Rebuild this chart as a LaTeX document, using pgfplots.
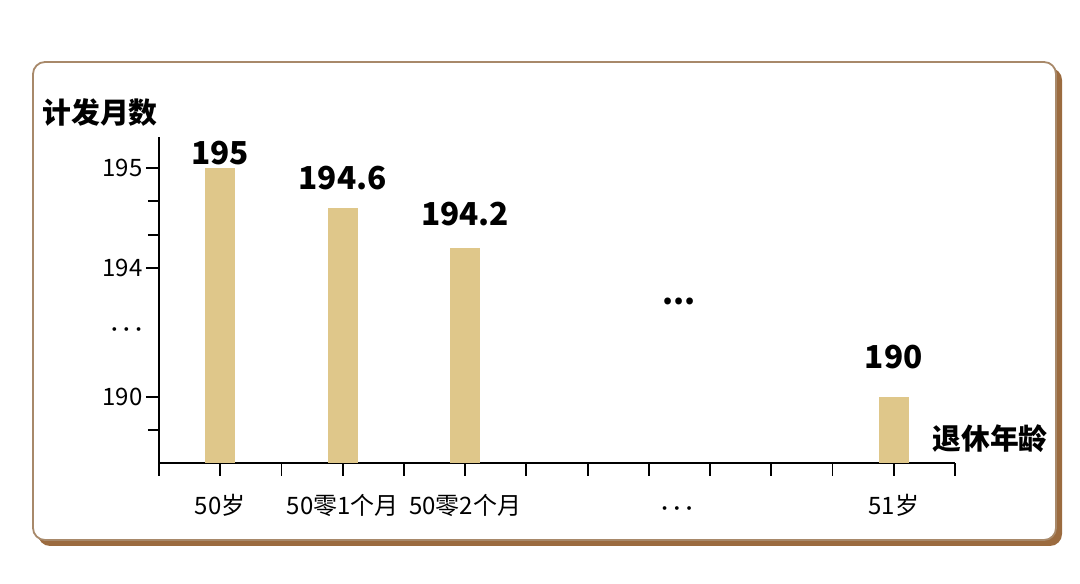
\documentclass[border=0pt]{standalone}
\usepackage{fontspec}
\setmainfont{Noto Sans CJK SC}
\usepackage{pgfplots}
\pgfplotsset{compat=1.18}

\definecolor{barcol}{HTML}{DFC78A}
\definecolor{framecol}{HTML}{9B6B3F}
\definecolor{framelinecol}{HTML}{A8896A}

\newcommand{\valfont}{\bfseries\fontsize{15.8bp}{17bp}\selectfont}
\newcommand{\tickfont}{\fontsize{12bp}{14bp}\selectfont}
\DeclareRobustCommand{\bdots}{\mbox{\boldmath$\cdots$}}

\begin{document}
\begin{tikzpicture}
% page and card (1px = 0.5bp)
\path (0,0) rectangle (540bp,292bp);
\fill[framecol, rounded corners=6bp] (19bp,19bp) rectangle (531bp,258bp);
\filldraw[fill=white, draw=framelinecol, line width=0.9bp, rounded corners=6bp]
  (16.5bp,22bp) rectangle (528bp,261bp);

\begin{axis}[
  at={(79.5bp,60.5bp)}, anchor=south west,
  scale only axis, width=398bp, height=163bp,
  axis lines=left, axis line style={-, line width=0.9bp},
  xmin=0, xmax=13, ymin=187.9535, ymax=195.31,
  % broken value axis: 194..195 stretched, 190..194 compressed
  y coord trafo/.code={\pgfmathparse{#1>=194 ? 195+(#1-194)*100 : 66+(#1-190)*32.25}},
  y coord inv trafo/.code={\pgfmathparse{#1>=195 ? 194+(#1-195)/100 : 190+(#1-66)/32.25}},
  tick align=outside,
  major tick length=6.5bp, minor tick length=5.5bp,
  tick style={black, line width=0.9bp},
  xtick={0,...,13},
  xticklabels={,50岁,,50零1个月,,50零2个月,,,,,,,51岁,},
  extra x ticks={8.46}, extra x tick labels={\bdots},
  extra x tick style={tick style={draw=none}},
  ytick={190,194,195}, yticklabels={190,194,195},
  minor ytick={188.977,194.333,194.667},
  extra y ticks={192.08}, extra y tick labels={\bdots},
  extra y tick style={tick style={draw=none}},
  /pgf/number format/assume math mode=true,
  xticklabel style={font=\tickfont, yshift=-7bp,
    text height=0.9em, text depth=0.15em},
  yticklabel style={font=\tickfont, inner sep=1.5bp},
  point meta=explicit symbolic,
  nodes near coords,
  nodes near coords style={font=\valfont, anchor=south, inner sep=0pt},
]
\addplot[ybar, bar width=15bp, bar shift=0pt, fill=barcol, draw=none,
  nodes near coords style={yshift=1.5bp}] coordinates {(1,195) [195]};
\addplot[ybar, bar width=15bp, bar shift=0pt, fill=barcol, draw=none,
  nodes near coords style={yshift=9bp}] coordinates {(3,194.6) [194.6]};
\addplot[ybar, bar width=15bp, bar shift=0pt, fill=barcol, draw=none,
  nodes near coords style={yshift=11bp}] coordinates {(5,194.2) [194.2]};
\addplot[ybar, bar width=15bp, bar shift=0pt, fill=barcol, draw=none,
  nodes near coords style={yshift=14bp}] coordinates {(12,190) [190]};
\end{axis}

\node[font=\bfseries\fontsize{14.4bp}{16bp}\selectfont] at (50bp,235.5bp) {计发月数};
\node[font=\bfseries\fontsize{14.4bp}{16bp}\selectfont] at (495bp,72.5bp) {退休年龄};
\node[font=\valfont, anchor=base] at (339.5bp,139.5bp) {...};
\end{tikzpicture}
\end{document}
